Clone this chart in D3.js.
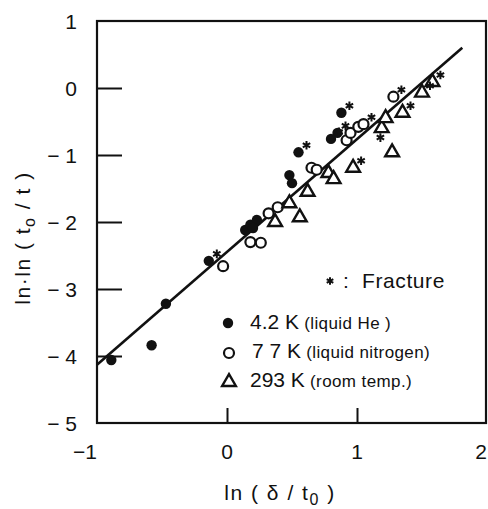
<!DOCTYPE html>
<html>
<head>
<meta charset="utf-8">
<script src="https://cdn.jsdelivr.net/npm/d3@7"></script>
<style>
  body { margin: 0; background: #fff; }
  svg text { font-family: "Liberation Sans", Arial, sans-serif; fill: #111; }
</style>
</head>
<body>
<svg id="chart" width="488" height="509"></svg>
<script>
// data: [ln(delta/t0), ln ln(t0/t), fracture?]
var heliumPts = [
  [-0.89, -4.06, 0], [-0.58, -3.84, 0], [-0.47, -3.22, 0], [-0.14, -2.58, 1],
  [0.14, -2.12, 0], [0.18, -2.04, 0], [0.23, -1.97, 0], [0.20, -2.09, 0],
  [0.48, -1.30, 0], [0.50, -1.42, 0], [0.55, -0.96, 1], [0.85, -0.67, 1],
  [0.80, -0.76, 1], [0.88, -0.37, 1]
];
var nitrogenPts = [
  [-0.03, -2.66, 0], [0.18, -2.30, 0], [0.26, -2.31, 0], [0.32, -1.87, 0],
  [0.39, -1.78, 0], [0.65, -1.19, 0], [0.69, -1.22, 0], [0.92, -0.78, 0],
  [0.95, -0.67, 0], [1.01, -0.58, 0], [1.05, -0.54, 1], [1.28, -0.13, 1]
];
var roomPts = [
  [0.37, -2.00, 0], [0.48, -1.72, 0], [0.56, -1.93, 0], [0.62, -1.55, 0],
  [0.78, -1.27, 0], [0.82, -1.36, 0], [0.97, -1.19, 1], [1.19, -0.60, 0],
  [1.22, -0.45, 0], [1.27, -0.96, 0], [1.35, -0.37, 1], [1.50, -0.07, 1],
  [1.58, 0.09, 1]
];
var looseStars = [[1.18, -0.74]];
var fitLine = [[-1, -4.13], [1.81, 0.60]];

var xTicks = [-1, 0, 1, 2];
var xTickLabels = ["\u22121", "0", "1", "2"];
var yTicks = [1, 0, -1, -2, -3, -4, -5];
var yTickLabels = ["1", "0", "\u2212 1", "\u2212 2", "\u2212 3", "\u2212 4", "\u2212 5"];

var svg = d3.select("#chart");
var margin = {top: 21, right: 1, bottom: 86, left: 97};
var width = 488, height = 509;

var x = d3.scaleLinear().domain([-1, 2]).range([margin.left, 487]);
var y = d3.scaleLinear().domain([-5, 1]).range([height - margin.bottom, margin.top]);

// frame
svg.append("rect")
  .attr("x", x(-1)).attr("y", y(1))
  .attr("width", 486 - x(-1)).attr("height", y(-5) - y(1))
  .attr("fill", "none").attr("stroke", "#111").attr("stroke-width", 2.2);

// inward ticks
var yAxis = d3.axisRight(y).tickValues(yTicks.slice(1, 6)).tickSize(25).tickFormat("");
svg.append("g").attr("transform", "translate(" + x(-1) + ",0)").call(yAxis)
  .call(function (g) { g.select(".domain").remove(); })
  .selectAll("line").attr("stroke", "#111").attr("stroke-width", 2);

var xAxis = d3.axisTop(x).tickValues([0, 1]).tickSize(15).tickFormat("");
svg.append("g").attr("transform", "translate(0," + y(-5) + ")").call(xAxis)
  .call(function (g) { g.select(".domain").remove(); })
  .selectAll("line").attr("stroke", "#111").attr("stroke-width", 2);

// tick labels
svg.selectAll(".ylab").data(yTicks).enter().append("text")
  .attr("x", 77).attr("y", function (d) { return y(d); }).attr("dy", "0.36em")
  .attr("text-anchor", "end").attr("font-size", 21)
  .text(function (d, i) { return yTickLabels[i]; });

svg.selectAll(".xlab").data(xTicks).enter().append("text")
  .attr("x", function (d, i) { return i === 0 ? x(d) - 12 : (i === 3 ? 487 : x(d)); })
  .attr("y", 459)
  .attr("text-anchor", function (d, i) { return i === 3 ? "end" : "middle"; })
  .attr("font-size", 21)
  .text(function (d, i) { return xTickLabels[i]; });

// axis titles
var xt = svg.append("text").attr("x", 280).attr("y", 500)
  .attr("text-anchor", "middle").attr("font-size", 21).attr("letter-spacing", 1.5);
xt.append("tspan").text("ln  (  \u03b4 / t");
xt.append("tspan").attr("font-size", 16).attr("dy", 5).text("0");
xt.append("tspan").attr("dy", -5).text("  )");

var yt = svg.append("text").attr("transform", "translate(30,238) rotate(-90)")
  .attr("text-anchor", "middle").attr("font-size", 21).attr("letter-spacing", 1.5);
yt.append("tspan").text("ln\u00b7ln  (  t");
yt.append("tspan").attr("font-size", 16).attr("dy", 5).text("o");
yt.append("tspan").attr("dy", -5).text(" /  t  )");

// fit line
svg.append("line")
  .attr("x1", x(fitLine[0][0])).attr("y1", y(fitLine[0][1]))
  .attr("x2", x(fitLine[1][0])).attr("y2", y(fitLine[1][1]))
  .attr("stroke", "#111").attr("stroke-width", 2.6);

var tri = d3.symbol().type(d3.symbolTriangle).size(82);
function starPath(r) {
  var p = "";
  [90, 30, -30].forEach(function (a) {
    var c = Math.cos(a * Math.PI / 180) * r, s = Math.sin(a * Math.PI / 180) * r;
    p += "M" + (-c) + "," + (-s) + "L" + c + "," + s;
  });
  return p;
}

// points
svg.selectAll(".he").data(heliumPts).enter().append("circle")
  .attr("cx", function (d) { return x(d[0]); }).attr("cy", function (d) { return y(d[1]); })
  .attr("r", 5.2).attr("fill", "#111");

svg.selectAll(".n2").data(nitrogenPts).enter().append("circle")
  .attr("cx", function (d) { return x(d[0]); }).attr("cy", function (d) { return y(d[1]); })
  .attr("r", 5).attr("fill", "#fff").attr("stroke", "#111").attr("stroke-width", 2.2);

svg.selectAll(".rt").data(roomPts).enter().append("path")
  .attr("d", tri)
  .attr("transform", function (d) { return "translate(" + x(d[0]) + "," + y(d[1]) + ")"; })
  .attr("fill", "#fff").attr("stroke", "#111").attr("stroke-width", 2.4);

// fracture marks
var fractured = heliumPts.concat(nitrogenPts, roomPts).filter(function (d) { return d[2]; });
var starData = fractured.map(function (d) { return [x(d[0]) + 8, y(d[1]) - 7]; })
  .concat(looseStars.map(function (d) { return [x(d[0]), y(d[1])]; }));
svg.selectAll(".star").data(starData).enter().append("path")
  .attr("d", starPath(4.3))
  .attr("transform", function (d) { return "translate(" + d[0] + "," + d[1] + ")"; })
  .attr("stroke", "#111").attr("stroke-width", 2).attr("fill", "none");

// legend
svg.append("path").attr("d", starPath(3.8)).attr("transform", "translate(330,281)")
  .attr("stroke", "#111").attr("stroke-width", 2);
svg.append("text").attr("x", 343).attr("y", 288).attr("font-size", 21).text(":");
svg.append("text").attr("x", 362).attr("y", 288).attr("font-size", 21)
  .attr("letter-spacing", 0.6).text("Fracture");

svg.append("circle").attr("cx", 228).attr("cy", 323).attr("r", 5.2).attr("fill", "#111");
svg.append("circle").attr("cx", 229).attr("cy", 353).attr("r", 5)
  .attr("fill", "#fff").attr("stroke", "#111").attr("stroke-width", 2.2);
svg.append("path").attr("d", tri).attr("transform", "translate(229,382)")
  .attr("fill", "#fff").attr("stroke", "#111").attr("stroke-width", 2.4);

var legendRows = [
  ["4.2 K", " (liquid  He )", 329, 250],
  ["7 7  K", " (liquid nitrogen)", 358, 252],
  ["293 K", " (room temp.)", 387, 250]
];
legendRows.forEach(function (r) {
  var t = svg.append("text").attr("x", r[3]).attr("y", r[2]).attr("font-size", 21);
  t.append("tspan").text(r[0]);
  t.append("tspan").attr("font-size", 17).attr("letter-spacing", 0.4).text(r[1]);
});
</script>
</body>
</html>
